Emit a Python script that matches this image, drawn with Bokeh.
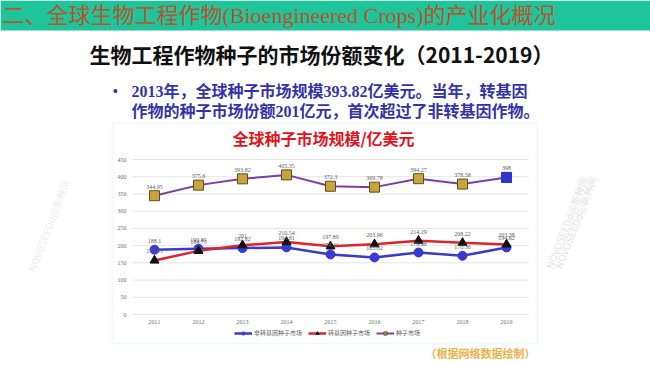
from bokeh.plotting import figure
from bokeh.models import ColumnDataSource, Range1d, Legend, LegendItem, Label, BoxAnnotation
from bokeh.embed import file_html
from bokeh.resources import INLINE
from bokeh.core.properties import value

# ---- data ----
years = [2011, 2012, 2013, 2014, 2015, 2016, 2017, 2018, 2019]
non_gm = [188.1, 190.85, 192.82, 194.81, 174.41, 165.82, 179.98, 170.36, 194.62]
gm = [156.85, 184.75, 201, 210.54, 197.89, 203.96, 214.29, 208.22, 203.38]
total = [344.95, 375.6, 393.82, 405.35, 372.3, 369.78, 394.27, 378.58, 398]
y_ticks = [0, 50, 100, 150, 200, 250, 300, 350, 400, 450]
series_names = ["非转基因种子市场", "转基因种子市场", "种子市场"]

SERIF = "'Liberation Serif', 'Noto Sans CJK SC'"
SANS = "'Noto Sans CJK SC'"
BOX = "#D5ECE7"
GREEN = "#20C49B"

# page geometry (pixels) of the chart's plotting area
W, H = 650, 365
FL, FR, FT, FB = 132, 528, 159, 314
X0, X1, Y0, Y1 = 2010.5, 2019.5, 0, 450


def px(X, Y):
    """page pixel -> chart data coordinates (for decorations only)"""
    return (X0 + (X - FL) * (X1 - X0) / (FR - FL), Y0 + (FB - Y) * (Y1 - Y0) / (FB - FT))


xa, yb = px(0, 0)
xb, ya = px(W, H)

src = ColumnDataSource(dict(
    year=years, non_gm=non_gm, gm=gm, total=total,
    non_gm_lbl=[f"{v:g}" for v in non_gm],
    gm_lbl=[f"{v:g}" for v in gm],
    total_lbl=[f"{v:g}" for v in total],
))
last = ColumnDataSource(dict(year=years[-1:], total=total[-1:]))
ytick_src = ColumnDataSource(dict(y=y_ticks, lbl=[str(t) for t in y_ticks]))
xtick_src = ColumnDataSource(dict(x=years, lbl=[str(t) for t in years]))

p = figure(width=W, height=H, x_range=Range1d(xa, xb), y_range=Range1d(ya, yb),
           toolbar_location=None, output_backend="svg", min_border=0,
           x_axis_type=None, y_axis_type=None)
p.title = None
p.outline_line_color = None


def label(X, Y, text, **kw):
    x, y = px(X, Y)
    opts = dict(text_baseline="middle", text_align="left")
    opts.update(kw)
    p.add_layout(Label(x=x, y=y, text=text, **opts))


# ---- slide decorations ----
bl_, bt_ = px(0, 0)
br_, bb_ = px(650, 30)
p.add_layout(BoxAnnotation(left=bl_, right=br_, top=bt_, bottom=bb_, fill_color=GREEN,
                           fill_alpha=1, line_color=None))
cl_, ct_ = px(112, 123)
cr_, cb_ = px(537, 343)
p.add_layout(BoxAnnotation(left=cl_, right=cr_, top=ct_, bottom=cb_, fill_alpha=0,
                           line_color=BOX, line_width=2))

label(2, 15, "二、全球生物工程作物(Bioengineered Crops)的产业化概况",
      text_font=SERIF, text_font_size="22px", text_color="#B5562F")
label(321, 53, "生物工程作物种子的市场份额变化（2011-2019）", text_font=SANS,
      text_font_size="21px", text_font_style="bold", text_color="#111111", text_align="center")
label(112, 91, "•", text_font=SERIF, text_font_size="16px", text_color="#3333A8")
label(131, 91, "2013年，全球种子市场规模393.82亿美元。当年，转基因", text_font=SERIF,
      text_font_size="16px", text_font_style="bold", text_color="#3333A8")
label(131, 111, "作物的种子市场份额201亿元，首次超过了非转基因作物。", text_font=SERIF,
      text_font_size="16px", text_font_style="bold", text_color="#3333A8")
label(323, 137, "全球种子市场规模/亿美元", text_font=SANS, text_font_size="16px",
      text_font_style="bold", text_color="#E1141B", text_align="center")
label(480, 353, "（根据网络数据绘制）", text_font=SERIF, text_font_size="11px",
      text_font_style="bold", text_color="#ECB24E", text_align="center")
label(48, 225, "NOVOSEEDd@新种网", text_font=SANS, text_font_size="10px",
      text_color="#EDEDED", angle=1.2, text_align="center")
for xw in (566, 575):
    label(xw, 222, "NOVOSEEDd@新种网", text_font=SANS, text_font_size="10px",
          text_color="#E4E4E4", angle=1.2, text_align="center")

# ---- grid and tick labels (from tick arrays, through the plot's scales) ----
p.segment(x0=X0, x1=X1, y0="y", y1="y", source=ytick_src, line_color="#E4E4E4", line_width=1)
tick_kw = dict(text_font=value("Liberation Serif"), text_font_size="6px", text_color="#707070",
               text_baseline="middle")
p.text(x=X0, y="y", text="lbl", source=ytick_src, text_align="right", x_offset=-6, **tick_kw)
p.text(x="x", y=Y0, text="lbl", source=xtick_src, text_align="center", y_offset=7, **tick_kw)

# ---- series ----
bl = p.line("year", "non_gm", source=src, line_color="#3B3BC6", line_width=2.5)
bp = p.scatter("year", "non_gm", source=src, marker="circle", size=9,
               fill_color="#3A3AD2", line_color="#3A3AD2")
rl = p.line("year", "gm", source=src, line_color="#D9262C", line_width=2.5)
rp = p.scatter("year", "gm", source=src, marker="triangle", size=9,
               fill_color="#111111", line_color="#111111")
pl = p.line("year", "total", source=src, line_color="#7A3FA2", line_width=2)
pp = p.scatter("year", "total", source=src, marker="square", size=10,
               fill_color="#C9A43C", line_color="#5E4E22", line_width=1)
p.scatter("year", "total", source=last, marker="square", size=10,
          fill_color="#2E36C8", line_color="#2E36C8")

lbl_kw = dict(text_font=value("Liberation Serif"), text_font_size="6px", text_color="#606060",
              text_align="center", text_baseline="bottom", y_offset=-7)
p.text("year", "non_gm", text="non_gm_lbl", source=src, **lbl_kw)
p.text("year", "gm", text="gm_lbl", source=src, **lbl_kw)
p.text("year", "total", text="total_lbl", source=src, **lbl_kw)

# legend: pixels from the canvas' bottom-left corner
legend = Legend(items=[LegendItem(label=series_names[0], renderers=[bl, bp]),
                       LegendItem(label=series_names[1], renderers=[rl, rp]),
                       LegendItem(label=series_names[2], renderers=[pl, pp])],
                orientation="horizontal", location=(234, 28),
                label_text_font="Noto Sans CJK SC", label_text_font_size="6px",
                label_text_color="#606060", glyph_width=18, glyph_height=8,
                label_height=8, label_standoff=2, spacing=6, padding=0, margin=0,
                border_line_color=None, background_fill_alpha=0)
p.add_layout(legend)

open("out.html", "w").write(file_html(p, INLINE))
